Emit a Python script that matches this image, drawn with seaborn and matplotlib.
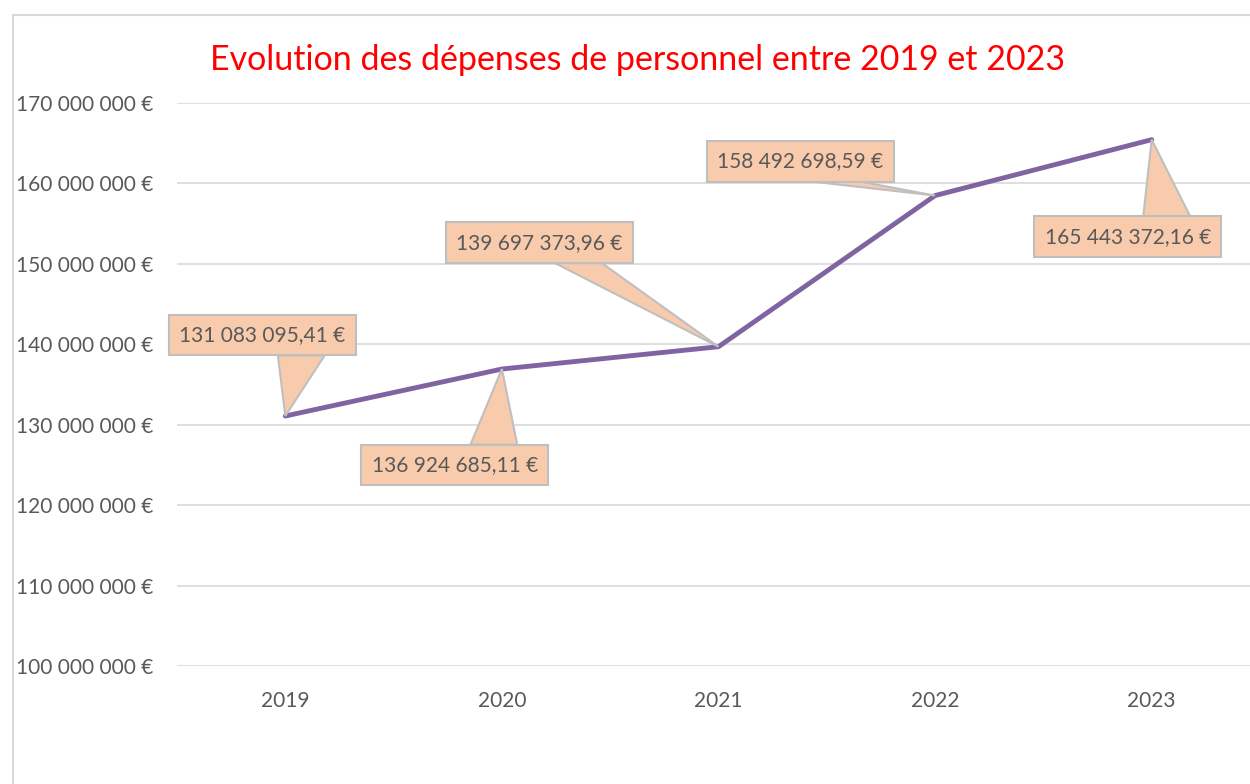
import numpy as np
import pandas as pd
import matplotlib.pyplot as plt
import seaborn as sns
from matplotlib.patches import Rectangle, Polygon
from matplotlib.transforms import IdentityTransform

years = ["2019", "2020", "2021", "2022", "2023"]
depenses = [131083095.41, 136924685.11, 139697373.96, 158492698.59, 165443372.16]
label_offsets = [(-23, 81), (-47, -96), (-179, 104), (-135, 34), (-24, -97)]
y_ticks = [100e6, 110e6, 120e6, 130e6, 140e6, 150e6, 160e6, 170e6]


def fr_money(v, decimals=0):
    s = f"{v:,.{decimals}f}".replace(",", " ").replace(".", ",")
    return s + " €"


sns.set_style("white")
plt.rcParams['font.family'] = ['Lato', 'DejaVu Sans']

df = pd.DataFrame({"annee": years, "depenses": depenses})

fig = plt.figure(figsize=(12.5, 7.84), dpi=100)
# chart frame like the spreadsheet chart area
fig.patches.append(Rectangle((13 / 1250, -0.01), 1.0, 1 - 15 / 784 + 0.01, transform=fig.transFigure,
                             fill=False, ec='#D9D9D9', lw=1.5))
ax = fig.add_axes([177 / 1250, 1 - 666 / 784, 1083 / 1250, (666 - 103) / 784])

sns.lineplot(data=df, x="annee", y="depenses", ax=ax, color='#8064A2', lw=3.5, sort=False, zorder=3)

ax.set_xlim(-0.5, 4.5)
ax.set_ylim(100e6, 170e6)
ax.set_yticks(y_ticks)
ax.set_yticklabels([fr_money(v) for v in y_ticks])
ax.yaxis.grid(True, color='#D9D9D9', lw=1.2)
ax.set_axisbelow(True)
for sp in ax.spines.values():
    sp.set_visible(False)
ax.tick_params(axis='both', length=0, labelsize=15, colors='#595959')
ax.tick_params(axis='y', pad=17)
ax.tick_params(axis='x', pad=18)
ax.set_xlabel("")
ax.set_ylabel("")

anns = []
for i, (v, off) in enumerate(zip(depenses, label_offsets)):
    a = ax.annotate(fr_money(v, 2), xy=(i, v), xytext=off, textcoords='offset pixels',
                    ha='center', va='center', fontsize=15, color='#595959', zorder=5,
                    bbox=dict(boxstyle='square,pad=0.5', fc='#F8CBAD', ec='#BFBFBF', lw=1.5))
    anns.append(a)

# callout wedges, Excel style: base on the edge facing the point, 7/12..10/12 of the width
fig.canvas.draw()
for i, (v, a) in enumerate(zip(depenses, anns)):
    bb = a.get_bbox_patch().get_window_extent()
    tx, ty = ax.transData.transform((i, v))
    if tx >= bb.x0 + bb.width / 2:
        x0, x1 = bb.x0 + bb.width * 7 / 12, bb.x0 + bb.width * 10 / 12
    else:
        x0, x1 = bb.x0 + bb.width * 2 / 12, bb.x0 + bb.width * 5 / 12
    ey = bb.y1 if ty > bb.y1 else bb.y0
    ax.add_patch(Polygon([[x0, ey], [tx, ty], [x1, ey]], closed=True, transform=IdentityTransform(),
                         fc='#F8CBAD', ec='#BFBFBF', lw=1.5, zorder=4, clip_on=False))

fig.text(637 / 1250, 1 - 60 / 784, "Evolution des dépenses de personnel entre 2019 et 2023",
         ha='center', va='center', fontsize=24.5, color='#FF0000')

fig.savefig("out.png", dpi=100)
